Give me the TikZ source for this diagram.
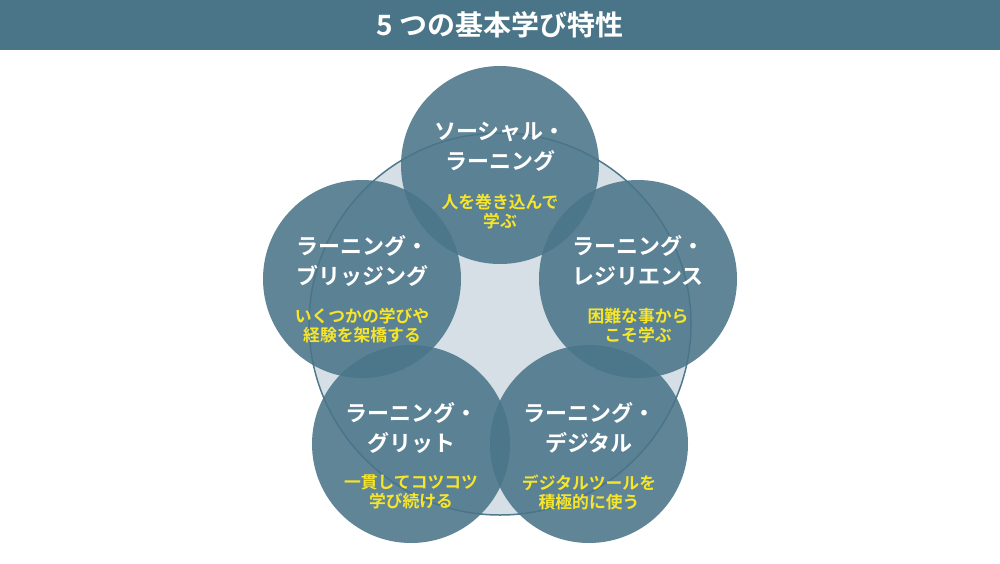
\documentclass[tikz,border=0pt]{standalone}
\usepackage{fontspec}
\newfontfamily\jp{Noto Sans CJK JP}[BoldFont={Noto Sans CJK JP Bold}]
\definecolor{hdr}{HTML}{4A7487}
\definecolor{cfill}{HTML}{4A7589}
\definecolor{bigfill}{HTML}{D6DFE5}
\definecolor{bigline}{HTML}{4E7A8C}
\definecolor{subyel}{HTML}{F7E52A}
\begin{document}
\begin{tikzpicture}[x=1pt,y=-1pt,
  petal/.style={circle,fill=cfill,fill opacity=0.88,minimum size=198pt,inner sep=0pt},
  ttl/.style={text=white,font=\jp\bfseries\fontsize{22}{30}\selectfont,align=center},
  sub/.style={text=subyel,font=\jp\bfseries\fontsize{16.8}{19}\selectfont,align=center}]
\useasboundingbox (0,0) rectangle (1000,563);
\fill[white] (0,0) rectangle (1000,563);
\fill[hdr] (0,0) rectangle (1000,50);
\node[text=white,font=\jp\bfseries\fontsize{28}{30}\selectfont] (title) at (500,25) {5 つの基本学び特性};
\node[circle,draw=bigline,line width=1.5pt,fill=bigfill,minimum size=382pt,inner sep=0pt] (big) at (500,324) {};
\node[petal] (c1) at (500,165) {};
\node[petal] (c2) at (362,279) {};
\node[petal] (c3) at (638,279) {};
\node[petal] (c4) at (411,444) {};
\node[petal] (c5) at (589,444) {};
\node[ttl] (t1) at (500,147) {ソーシャル・\\ラーニング};
\node[sub] (s1) at (500,212) {人を巻き込んで\\学ぶ};
\node[ttl] (t2) at (362,261) {ラーニング・\\ブリッジング};
\node[sub] (s2) at (362,326) {いくつかの学びや\\経験を架橋する};
\node[ttl] (t3) at (638,261) {ラーニング・\\レジリエンス};
\node[sub] (s3) at (638,326) {困難な事から\\こそ学ぶ};
\node[ttl] (t4) at (411,428) {ラーニング・\\グリット};
\node[sub] (s4) at (411,492) {一貫してコツコツ\\学び続ける};
\node[ttl] (t5) at (589,428) {ラーニング・\\デジタル};
\node[sub] (s5) at (589,492) {デジタルツールを\\積極的に使う};
\end{tikzpicture}
\end{document}
